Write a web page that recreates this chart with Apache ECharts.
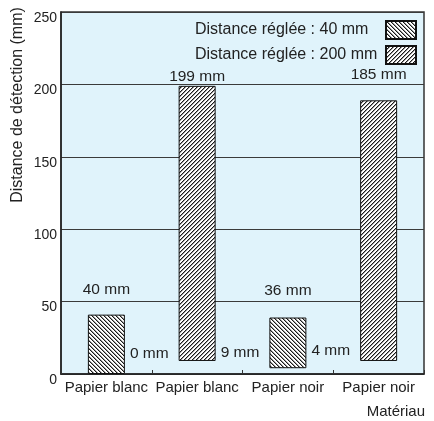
<!DOCTYPE html>
<html>
<head>
<meta charset="utf-8">
<script src="https://cdn.jsdelivr.net/npm/echarts@6/dist/echarts.min.js"></script>
<style>
html,body{margin:0;padding:0;background:#fff;}
#c{width:434px;height:421px;}
</style>
</head>
<body>
<div id="c"></div>
<script>
// ---- data ----
const categories = ['Papier blanc', 'Papier blanc', 'Papier noir', 'Papier noir'];
const seriesNames = ['Distance réglée : 40 mm', 'Distance réglée : 200 mm'];
const rangeLow = [0, 9, 4, 9];
const rangeHigh40 = [41, null, 39, null];
const rangeHigh200 = [null, 199, null, 189];
const topLabels = ['40 mm', '199 mm', '36 mm', '185 mm'];
const lowLabels = ['0 mm', '9 mm', '4 mm', ''];
const yTicks = [0, 50, 100, 150, 200, 250];

// ---- label placement styles (pixel offsets) ----
const topLabelOffsetY = [-11.5, 3.5, -13.5, -12.5];
const lowLabelOffsetY = [-20, -8, -17, 0];

const font = 'Liberation Sans, Arial, Helvetica, sans-serif';
const textColor = '#222';

function hatch(dir) {
  const s = 4;
  const c = document.createElement('canvas');
  c.width = s; c.height = s;
  const ctx = c.getContext('2d');
  ctx.fillStyle = '#fff';
  ctx.fillRect(0, 0, s, s);
  for (let i = 0; i < s; i++) {
    const x = dir > 0 ? i : s - 1 - i;
    const x2 = dir > 0 ? (i + 1) % s : (s - i) % s;
    ctx.fillStyle = '#9a9a9a';
    ctx.fillRect(x2, i, 1, 1);
    ctx.fillStyle = '#1a1a1a';
    ctx.fillRect(x, i, 1, 1);
  }
  return {image: c, repeat: 'repeat'};
}

function rangeData(high) {
  return high.map((h, i) => {
    if (h == null) return '-';
    return {
      value: h - rangeLow[i],
      label: {
        show: true, position: 'top', distance: 5,
        offset: [0, topLabelOffsetY[i]],
        formatter: () => topLabels[i],
        fontSize: 15.5, color: textColor, fontFamily: font
      }
    };
  });
}
const baseData = rangeLow.map((v, i) => ({
  value: v,
  label: {
    show: lowLabels[i] !== '',
    position: ['100%', 0],
    align: 'left', verticalAlign: 'middle',
    offset: [5, lowLabelOffsetY[i]],
    formatter: () => lowLabels[i],
    fontSize: 15.5, color: textColor, fontFamily: font
  }
}));

const chart = echarts.init(document.getElementById('c'), null, {renderer: 'canvas'});
chart.setOption({
  animation: false,
  textStyle: {fontFamily: font},
  grid: {
    left: 61, right: 10, top: 12, bottom: 47,
    show: true, backgroundColor: '#e0f3fb', borderColor: '#333', borderWidth: 1.5
  },
  legend: {
    data: seriesNames,
    orient: 'vertical', align: 'right',
    right: 12, top: 15, itemGap: 5,
    itemWidth: 30, itemHeight: 18,
    icon: 'rect',
    formatter: name => '{t|' + name + '}',
    textStyle: {
      fontSize: 16, color: textColor, fontFamily: font,
      rich: {t: {width: 186, align: 'left', fontSize: 16, color: textColor, fontFamily: font}}
    }
  },
  xAxis: {
    type: 'category', data: categories,
    axisLine: {lineStyle: {color: '#222', width: 1.5}},
    axisTick: {show: true, inside: true, length: 4, lineStyle: {color: '#333'}},
    axisLabel: {margin: 6, fontSize: 15, color: textColor, fontFamily: font, interval: 0}
  },
  yAxis: {
    type: 'value', min: yTicks[0], max: yTicks[yTicks.length - 1], interval: 50,
    axisLine: {show: true, lineStyle: {color: '#222', width: 1.5}},
    axisTick: {show: false},
    splitLine: {show: true, lineStyle: {color: '#3a3a3a', width: 1}},
    axisLabel: {margin: 4, fontSize: 14, color: textColor, fontFamily: font, verticalAlign: 'top', lineHeight: 12}
  },
  graphic: [
    {type: 'text', x: 18, y: 105, rotation: Math.PI / 2,
     style: {text: 'Distance de détection (mm)', font: '16px ' + font, fill: textColor, align: 'center', verticalAlign: 'middle'}},
    {type: 'text', x: 425, y: 412,
     style: {text: 'Matériau', font: '15px ' + font, fill: textColor, align: 'right', verticalAlign: 'middle'}}
  ],
  series: [
    {name: 'base', type: 'bar', stack: 'r', barWidth: 37, data: baseData,
     itemStyle: {color: 'transparent'}, silent: true},
    {name: seriesNames[0], type: 'bar', stack: 'r', barWidth: 37, data: rangeData(rangeHigh40),
     itemStyle: {color: hatch(1), borderColor: '#111', borderWidth: 1}},
    {name: seriesNames[1], type: 'bar', stack: 'r', barWidth: 37, data: rangeData(rangeHigh200),
     itemStyle: {color: hatch(-1), borderColor: '#111', borderWidth: 1}}
  ]
});
</script>
</body>
</html>
